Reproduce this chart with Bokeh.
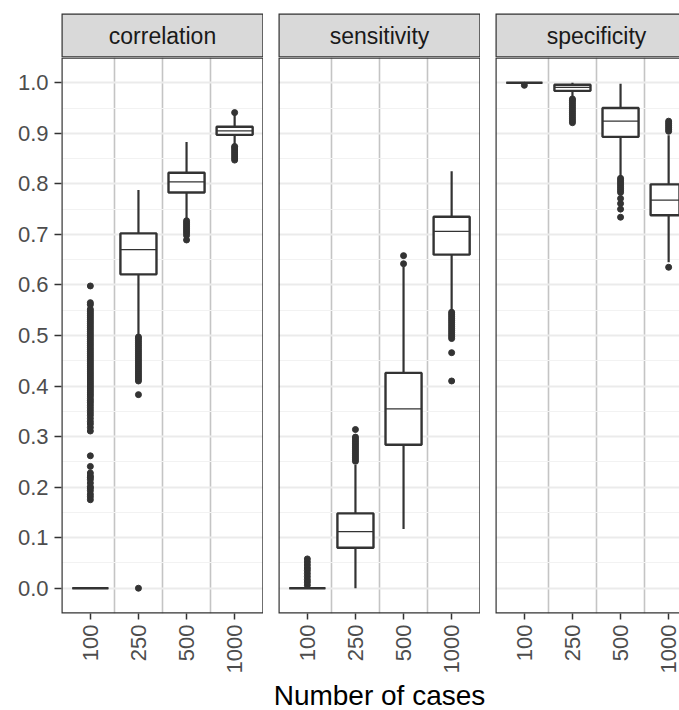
import math
from bokeh.plotting import figure
from bokeh.models import ColumnDataSource, Range1d, FixedTicker, NumeralTickFormatter
from bokeh.layouts import row, column
from bokeh.core.properties import value
from bokeh.embed import file_html
from bokeh.resources import INLINE

# ---------------- data ----------------
CASES = ["100", "250", "500", "1000"]
METRICS = ["correlation", "sensitivity", "specificity"]
X_TITLE = "Number of cases"

Y_TICKS = [0.0, 0.1, 0.2, 0.3, 0.4, 0.5, 0.6, 0.7, 0.8, 0.9, 1.0]
Y_MINOR = [0.05, 0.15, 0.25, 0.35, 0.45, 0.55, 0.65, 0.75, 0.85, 0.95]

# correlation
CORR_Q1 = [0.0, 0.621, 0.783, 0.897]
CORR_MED = [0.0, 0.670, 0.804, 0.905]
CORR_Q3 = [0.0, 0.702, 0.822, 0.913]
CORR_LO = [0.0, 0.500, 0.730, 0.876]
CORR_HI = [0.0, 0.788, 0.883, 0.937]
CORR_OUT_100 = [0.175, 0.181, 0.186, 0.193, 0.198, 0.201, 0.208, 0.215, 0.219, 0.222,
                0.228, 0.241, 0.262, 0.311, 0.318, 0.325, 0.330, 0.336, 0.342, 0.347,
                0.352, 0.357, 0.362, 0.367, 0.371, 0.375, 0.380, 0.384, 0.388, 0.392,
                0.396, 0.400, 0.404, 0.408, 0.412, 0.416, 0.420, 0.424, 0.428, 0.432,
                0.436, 0.440, 0.444, 0.448, 0.452, 0.456, 0.460, 0.464, 0.468, 0.472,
                0.476, 0.480, 0.484, 0.488, 0.492, 0.496, 0.500, 0.504, 0.508, 0.512,
                0.516, 0.520, 0.524, 0.528, 0.532, 0.536, 0.540, 0.544, 0.548, 0.552,
                0.561, 0.565, 0.598]
CORR_OUT_250 = [0.0, 0.383, 0.410, 0.414, 0.418, 0.422, 0.426, 0.430, 0.434, 0.438,
                0.442, 0.446, 0.450, 0.454, 0.458, 0.462, 0.466, 0.470, 0.474, 0.478,
                0.482, 0.486, 0.490, 0.494, 0.497]
CORR_OUT_500 = [0.689, 0.698, 0.703, 0.707, 0.711, 0.715, 0.719, 0.723, 0.727]
CORR_OUT_1000 = [0.847, 0.851, 0.855, 0.859, 0.863, 0.867, 0.871, 0.874, 0.941]

# sensitivity
SENS_Q1 = [0.0, 0.080, 0.284, 0.660]
SENS_MED = [0.0, 0.112, 0.355, 0.706]
SENS_Q3 = [0.0, 0.148, 0.426, 0.735]
SENS_LO = [0.0, 0.0, 0.117, 0.550]
SENS_HI = [0.0, 0.244, 0.636, 0.825]
SENS_OUT_100 = [0.006, 0.012, 0.017, 0.023, 0.029, 0.035, 0.040, 0.046, 0.052, 0.058]
SENS_OUT_250 = [0.251, 0.255, 0.259, 0.263, 0.267, 0.271, 0.275, 0.279, 0.283, 0.287,
                0.291, 0.295, 0.299, 0.314]
SENS_OUT_500 = [0.642, 0.658]
SENS_OUT_1000 = [0.410, 0.466, 0.494, 0.498, 0.502, 0.506, 0.510, 0.514, 0.518, 0.522,
                 0.526, 0.530, 0.534, 0.538, 0.542, 0.546]

# specificity
SPEC_Q1 = [1.0, 0.984, 0.893, 0.738]
SPEC_MED = [1.0, 0.991, 0.924, 0.768]
SPEC_Q3 = [1.0, 0.996, 0.950, 0.799]
SPEC_LO = [1.0, 0.971, 0.812, 0.645]
SPEC_HI = [1.0, 1.0, 0.998, 0.896]
SPEC_OUT_100 = [0.995]
SPEC_OUT_250 = [0.921, 0.925, 0.929, 0.933, 0.937, 0.941, 0.945, 0.949, 0.953, 0.957,
                0.961, 0.965, 0.968]
SPEC_OUT_500 = [0.734, 0.750, 0.761, 0.771, 0.783, 0.787, 0.791, 0.795, 0.799, 0.803,
                0.807, 0.811]
SPEC_OUT_1000 = [0.635, 0.904, 0.908, 0.912, 0.916, 0.920, 0.924]

PANELS = [
    (CORR_Q1, CORR_MED, CORR_Q3, CORR_LO, CORR_HI,
     [CORR_OUT_100, CORR_OUT_250, CORR_OUT_500, CORR_OUT_1000]),
    (SENS_Q1, SENS_MED, SENS_Q3, SENS_LO, SENS_HI,
     [SENS_OUT_100, SENS_OUT_250, SENS_OUT_500, SENS_OUT_1000]),
    (SPEC_Q1, SPEC_MED, SPEC_Q3, SPEC_LO, SPEC_HI,
     [SPEC_OUT_100, SPEC_OUT_250, SPEC_OUT_500, SPEC_OUT_1000]),
]

# ---------------- style / layout ----------------
FONT = "Liberation Sans"
INK = "#333333"
X_LO, X_HI = 0.4, 4.6
Y_LO, Y_HI = -0.05, 1.05
BOX_W = 0.75
TOTAL_W = 679
FULL_W = 202                 # full facet width in px
GAP = 15
LEFT = [61, GAP, GAP]        # border left of each frame
FRAME_W = [FULL_W, FULL_W, TOTAL_W - 61 - 2 * FULL_W - 2 * GAP]
STRIP_TOP, STRIP_H = 13, 44
PANEL_H, BOTTOM = 556, 65
TITLE_H = 710 - (STRIP_TOP + STRIP_H) - (PANEL_H + BOTTOM)

POS = [i + 1 for i in range(len(CASES))]
SEP = [(a + b) / 2 for a, b in zip(POS[:-1], POS[1:])]
PX = (X_HI - X_LO) / FULL_W  # data units per pixel

strips, panels = [], []
for i, (name, stats) in enumerate(zip(METRICS, PANELS)):
    q1, med, q3, lo, hi, outs = stats
    xr = Range1d(X_LO, X_LO + FRAME_W[i] * PX)

    # ---- strip ----
    s = figure(width=LEFT[i] + FRAME_W[i], height=STRIP_TOP + STRIP_H,
               x_range=xr, y_range=Range1d(0, 1), title=None,
               x_axis_location=None, y_axis_location=None,
               toolbar_location=None, output_backend="svg",
               min_border_left=LEFT[i], min_border_right=0,
               min_border_top=STRIP_TOP, min_border_bottom=0)
    s.grid.visible = False
    s.outline_line_color = None
    s.background_fill_color = "white"
    s.border_fill_color = "white"
    s.quad(left=[X_LO], right=[X_HI], bottom=[0], top=[1],
           fill_color="#D9D9D9", line_color=INK, line_width=2.4)
    s.text(x=[(X_LO + X_HI) / 2], y=[0.5], text=[name],
           text_align="center", text_baseline="middle",
           text_font=value(FONT), text_font_size="23px", text_color="#1A1A1A")
    strips.append(s)

    # ---- panel ----
    p = figure(width=LEFT[i] + FRAME_W[i], height=PANEL_H + BOTTOM,
               x_range=xr, y_range=Range1d(Y_LO, Y_HI), title=None,
               y_axis_location="left" if i == 0 else None,
               toolbar_location=None, output_backend="svg",
               min_border_left=LEFT[i], min_border_right=0,
               min_border_top=0, min_border_bottom=BOTTOM)
    p.outline_line_color = None
    p.background_fill_color = "white"
    p.border_fill_color = "white"

    p.xgrid.ticker = FixedTicker(ticks=SEP)
    p.xgrid.grid_line_color = "#C4C4C4"
    p.xgrid.grid_line_width = 1.6
    p.ygrid.ticker = FixedTicker(ticks=Y_TICKS, minor_ticks=Y_MINOR)
    p.ygrid.grid_line_color = "#EBEBEB"
    p.ygrid.grid_line_width = 2
    p.ygrid.minor_grid_line_color = "#F2F2F2"
    p.ygrid.minor_grid_line_width = 1.2

    xa = p.xaxis[0]
    xa.ticker = FixedTicker(ticks=POS)
    xa.major_label_overrides = {pos: c for pos, c in zip(POS, CASES)}
    xa.major_label_orientation = math.pi / 2
    xa.major_label_text_font = FONT
    xa.major_label_text_font_size = "22px"
    xa.major_label_text_color = "#4D4D4D"
    xa.major_label_standoff = 5
    xa.major_tick_out = 6
    xa.major_tick_in = 0
    xa.major_tick_line_color = INK
    xa.major_tick_line_width = 1.5
    xa.minor_tick_line_color = None
    xa.axis_line_color = None

    if i == 0:
        ya = p.yaxis[0]
        ya.ticker = FixedTicker(ticks=Y_TICKS)
        ya.formatter = NumeralTickFormatter(format="0.0")
        ya.major_label_text_font = FONT
        ya.major_label_text_font_size = "22px"
        ya.major_label_text_color = "#4D4D4D"
        ya.major_label_standoff = 6
        ya.major_tick_out = 7
        ya.major_tick_in = 0
        ya.major_tick_line_color = INK
        ya.major_tick_line_width = 1.5
        ya.minor_tick_line_color = None
        ya.axis_line_color = None

    src = ColumnDataSource(dict(
        x=POS, q1=q1, med=med, q3=q3, lo=lo, hi=hi,
        xl=[x - BOX_W / 2 for x in POS], xr=[x + BOX_W / 2 for x in POS]))
    p.segment(x0="x", y0="lo", x1="x", y1="q1", source=src,
              line_color=INK, line_width=2.2)
    p.segment(x0="x", y0="q3", x1="x", y1="hi", source=src,
              line_color=INK, line_width=2.2)
    p.vbar(x="x", width=BOX_W, bottom="q1", top="q3", source=src,
           fill_color="white", line_color=INK, line_width=2.4)
    p.segment(x0="xl", y0="med", x1="xr", y1="med", source=src,
              line_color=INK, line_width=1.3)

    ox, oy = [], []
    for pos, vals in zip(POS, outs):
        ox.extend([pos] * len(vals))
        oy.extend(vals)
    p.scatter(x=ox, y=oy, size=6, color=INK)

    p.quad(left=[X_LO], right=[X_HI], bottom=[Y_LO], top=[Y_HI],
           fill_color=None, line_color=INK, line_width=2.4)
    panels.append(p)

# ---- shared x-axis title, centred under the middle facet ----
mid_left = LEFT[0] + FRAME_W[0] + GAP
t_start = X_LO - mid_left * PX
t = figure(width=TOTAL_W, height=TITLE_H, title=None,
           x_range=Range1d(t_start, t_start + TOTAL_W * PX), y_range=Range1d(0, 1),
           x_axis_location=None, y_axis_location=None,
           toolbar_location=None, output_backend="svg", min_border=0)
t.grid.visible = False
t.outline_line_color = None
t.background_fill_color = "white"
t.border_fill_color = "white"
t.text(x=[(X_LO + X_HI) / 2], y=[0], text=[X_TITLE],
       text_align="center", text_baseline="bottom",
       text_font=value(FONT), text_font_size="28px", text_color="black")

layout = column(row(*strips, spacing=0), row(*panels, spacing=0), t, spacing=0)

open("out.html", "w").write(file_html(layout, INLINE))
